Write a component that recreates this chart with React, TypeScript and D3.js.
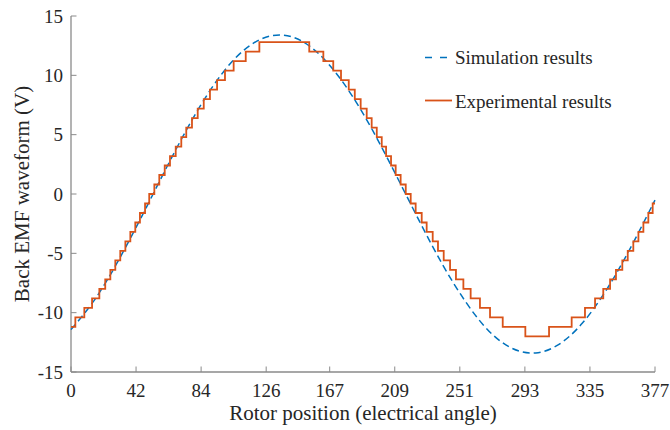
import React from "react";
import * as d3 from "d3";

const W = 670;
const H = 430;

const xTicks = [0, 42, 84, 126, 167, 209, 251, 293, 335, 377];
const yTicks = [-15, -10, -5, 0, 5, 10, 15];

// Simulation results (smooth curve)
const simX = [0, 15, 30, 45, 60, 75, 90, 105, 120, 135, 150, 165, 180, 195, 210, 225, 240, 255, 270, 285, 300, 315, 330, 345, 360, 377];
const simY = [-11.43, -8.96, -5.75, -2.06, 1.8, 5.51, 8.77, 11.3, 12.88, 13.4, 12.81, 11.14, 8.57, 5.29, 1.55, -2.31, -5.98, -9.13, -11.58, -13.02, -13.39, -12.67, -10.9, -8.21, -4.83, -0.51];

// Experimental results (staircase): step start positions and held levels
const expX = [0, 2.8, 8.6, 13.6, 18.3, 22.1, 25.4, 28.6, 31.8, 35.1, 38.3, 41.5, 44.5, 47.8, 50.5, 53.8, 57.0, 60.5, 63.9, 67.6, 71.2, 74.4, 78.1, 81.8, 85.7, 89.7, 94.3, 99.4, 105.0, 112.8, 121.6,
  153.8, 162.9, 169.3, 174.3, 179.3, 183.2, 187.0, 190.9, 194.1, 197.4, 200.6, 203.4, 206.6, 209.6, 212.8, 216.1, 219.3, 222.5, 226.4, 229.6, 233.5, 236.9, 240.6, 244.7, 248.5, 253.3, 258.0, 264.0, 270.5, 278.7, 293.3,
  308.6, 323.2, 331.8, 338.3, 343.6, 348.0, 351.8, 355.9, 359.4, 363.0, 366.3, 369.5, 372.7, 375.5, 377];
const expY = [-11.2, -10.4, -9.6, -8.8, -8.0, -7.2, -6.4, -5.6, -4.8, -4.0, -3.2, -2.4, -1.6, -0.8, 0.0, 0.8, 1.6, 2.4, 3.2, 4.0, 4.8, 5.6, 6.4, 7.2, 8.0, 8.8, 9.6, 10.4, 11.2, 12.0, 12.8,
  12.0, 11.2, 10.4, 9.6, 8.8, 8.0, 7.2, 6.4, 5.6, 4.8, 4.0, 3.2, 2.4, 1.6, 0.8, 0.0, -0.8, -1.6, -2.4, -3.2, -4.0, -4.8, -5.6, -6.4, -7.2, -8.0, -8.8, -9.6, -10.4, -11.2, -12.0,
  -11.2, -10.4, -9.6, -8.8, -8.0, -7.2, -6.4, -5.6, -4.8, -4.0, -3.2, -2.4, -1.6, -0.8, -0.8];

const legendLabels = ["Simulation results", "Experimental results"];
const xTitle = "Rotor position (electrical angle)";
const yTitle = "Back EMF waveform (V)";

const BLUE = "#0072BD";
const ORANGE = "#D95319";
const AXIS = "#8a8a8a";
const TEXT = "#262626";
const FONT = "'Liberation Serif', 'Times New Roman', serif";

export default function App() {
  const left = 71, right = 655, top = 16, bottom = 372;
  const x = d3.scaleLinear().domain([0, 377]).range([left, right]);
  const y = d3.scaleLinear().domain([-15, 15]).range([bottom, top]);

  const sim = simX.map((v, i) => [v, simY[i]] as [number, number]);
  const exp = expX.map((v, i) => [v, expY[i]] as [number, number]);

  const simLine = d3.line<[number, number]>().x(d => x(d[0])).y(d => y(d[1])).curve(d3.curveNatural);
  const expLine = d3.line<[number, number]>().x(d => x(d[0])).y(d => y(d[1])).curve(d3.curveStepAfter);

  return (
    <svg width={W} height={H} style={{ position: "absolute", left: 0, top: 0, background: "#fff" }} fontFamily={FONT}>
      <rect x={0} y={0} width={W} height={H} fill="#fff" />
      {/* axes */}
      <line x1={left} x2={right} y1={bottom} y2={bottom} stroke={AXIS} strokeWidth={1.3} />
      <line x1={left} x2={left} y1={bottom} y2={top} stroke={AXIS} strokeWidth={1.3} />
      {xTicks.map(t => (
        <g key={"x" + t}>
          <line x1={x(t)} x2={x(t)} y1={bottom} y2={bottom - 5.5} stroke={AXIS} strokeWidth={1} />
          <text x={x(t)} y={397} textAnchor="middle" fontSize={19} fill={TEXT}>{t}</text>
        </g>
      ))}
      {yTicks.map(t => (
        <g key={"y" + t}>
          <line x1={left} x2={left + 5.5} y1={y(t)} y2={y(t)} stroke={AXIS} strokeWidth={1} />
          <text x={63} y={y(t) + 6.5} textAnchor="end" fontSize={19} fill={TEXT}>{t}</text>
        </g>
      ))}
      {/* series */}
      <path d={simLine(sim) || ""} fill="none" stroke={BLUE} strokeWidth={1.5} strokeDasharray="7,4" />
      <path d={expLine(exp) || ""} fill="none" stroke={ORANGE} strokeWidth={1.8} />
      {/* legend */}
      <line x1={425} x2={448} y1={57.5} y2={57.5} stroke={BLUE} strokeWidth={1.5} strokeDasharray="7,8" />
      <text x={455} y={64} fontSize={19} fill={TEXT}>{legendLabels[0]}</text>
      <line x1={425} x2={452} y1={100.5} y2={100.5} stroke={ORANGE} strokeWidth={1.8} />
      <text x={455} y={108} fontSize={19} fill={TEXT}>{legendLabels[1]}</text>
      {/* titles */}
      <text x={(left + right) / 2} y={420} textAnchor="middle" fontSize={21} fill={TEXT}>{xTitle}</text>
      <text transform={`translate(29, ${(top + bottom) / 2}) rotate(-90)`} textAnchor="middle" fontSize={21} fill={TEXT}>{yTitle}</text>
    </svg>
  );
}
